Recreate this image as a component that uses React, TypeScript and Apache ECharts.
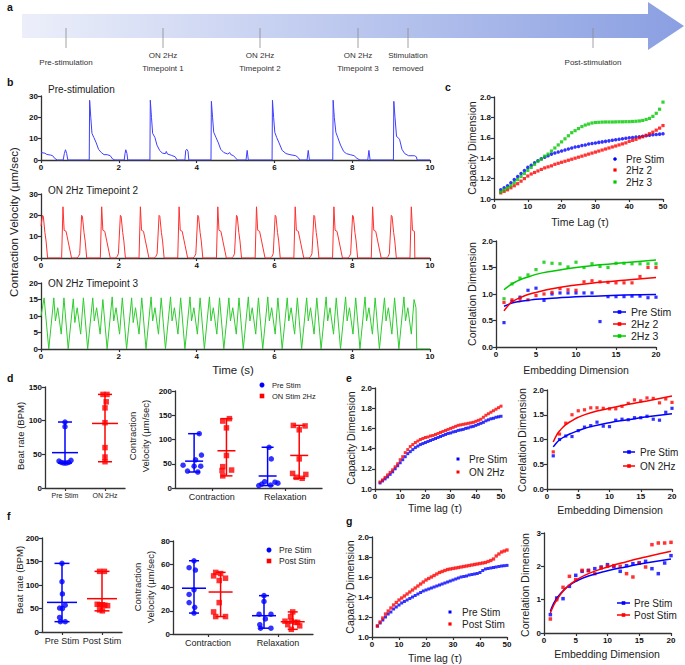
import React, { useEffect, useRef } from "react";
import * as echarts from "echarts";

// ---------------- DATA ----------------
// Panel a timeline labels
const TIMELINE_LABELS = ["Pre-stimulation", "ON 2Hz\nTimepoint 1", "ON 2Hz\nTimepoint 2", "ON 2Hz\nTimepoint 3", "Stimulation\nremoved", "Post-stimulation"];

// Panel b traces: [time (s), contraction velocity (µm/sec)]
const TRACE_PRE = [
  [0, 3.5], [0.1, 3.2], [0.15, 2.6], [0.25, 2.3], [0.3, 2], [0.35, 0.8], [0.42, 0], [0.57, 0], [0.6, 3], [0.63, 4.8], [0.66, 3], [0.69, 0],
  [1.24, 0], [1.25, 28], [1.28, 20], [1.31, 12.5], [1.36, 10.5], [1.42, 8], [1.48, 5], [1.55, 3.5], [1.62, 2.5], [1.7, 2.5], [1.78, 2], [1.84, 0.5], [1.9, 0], [2.14, 0], [2.16, 3], [2.18, 4.8], [2.21, 3], [2.23, 0],
  [2.8, 0], [2.81, 28], [2.84, 20], [2.87, 12.5], [2.93, 10.5], [2.98, 7], [3.05, 4.5], [3.12, 3.2], [3.2, 3], [3.22, 4], [3.25, 2.8], [3.35, 2.2], [3.45, 1.5], [3.5, 0], [3.7, 0], [3.72, 4.5], [3.75, 5], [3.78, 4], [3.8, 0],
  [4.37, 0], [4.38, 27.5], [4.41, 20], [4.44, 13], [4.5, 10.5], [4.56, 8], [4.62, 5], [4.7, 3.5], [4.8, 2.8], [4.85, 3.5], [4.88, 2.5], [4.95, 2], [5.0, 1], [5.05, 0], [5.27, 0], [5.3, 4.5], [5.33, 0],
  [5.94, 0], [5.95, 28], [5.98, 20], [6.01, 13], [6.06, 10.5], [6.12, 8], [6.2, 4.5], [6.3, 3], [6.4, 2.5], [6.55, 2], [6.62, 1], [6.65, 0], [6.84, 0], [6.87, 4.5], [6.9, 0],
  [7.5, 0], [7.51, 28], [7.54, 20], [7.58, 13], [7.63, 10.5], [7.7, 7], [7.78, 4], [7.85, 3], [7.95, 2.5], [8.05, 2], [8.12, 0.8], [8.2, 0], [8.4, 0], [8.43, 4.5], [8.46, 0],
  [9.06, 0], [9.07, 27.5], [9.1, 20], [9.14, 11], [9.18, 10.5], [9.22, 9.5], [9.28, 5], [9.35, 3], [9.45, 2], [9.6, 2], [9.65, 1.5], [9.67, 0], [10, 0],
];

const TRACE_2HZ_2 = [
  [0, 15], [0.04, 20], [0.06, 19.5], [0.1, 12], [0.13, 8], [0.17, 0],
  [0.53, 0], [0.565, 24], [0.595, 13], [0.645, 12.5], [0.695, 8], [0.785, 0],
  [0.925, 0], [0.965, 0.8], [0.995, 2], [1.045, 20], [1.065, 19.5], [1.105, 12], [1.135, 8], [1.175, 0],
  [1.525, 0], [1.56, 24], [1.59, 13], [1.64, 12.5], [1.69, 8], [1.78, 0],
  [1.92, 0], [1.96, 0.8], [1.99, 2], [2.04, 20], [2.06, 19.5], [2.1, 12], [2.13, 8], [2.17, 0],
  [2.52, 0], [2.555, 24], [2.585, 13], [2.635, 12.5], [2.685, 8], [2.775, 0],
  [2.915, 0], [2.955, 0.8], [2.985, 2], [3.035, 20], [3.055, 19.5], [3.095, 12], [3.125, 8], [3.165, 0],
  [3.515, 0], [3.55, 24], [3.58, 13], [3.63, 12.5], [3.68, 8], [3.77, 0],
  [3.91, 0], [3.95, 0.8], [3.98, 2], [4.03, 20], [4.05, 19.5], [4.09, 12], [4.12, 8], [4.16, 0],
  [4.51, 0], [4.545, 24], [4.575, 13], [4.625, 12.5], [4.675, 8], [4.765, 0],
  [4.905, 0], [4.945, 0.8], [4.975, 2], [5.025, 20], [5.045, 19.5], [5.085, 12], [5.115, 8], [5.155, 0],
  [5.505, 0], [5.54, 24], [5.57, 13], [5.62, 12.5], [5.67, 8], [5.76, 0],
  [5.9, 0], [5.94, 0.8], [5.97, 2], [6.02, 20], [6.04, 19.5], [6.08, 12], [6.11, 8], [6.15, 0],
  [6.5, 0], [6.535, 24], [6.565, 13], [6.615, 12.5], [6.665, 8], [6.755, 0],
  [6.895, 0], [6.935, 0.8], [6.965, 2], [7.015, 20], [7.035, 19.5], [7.075, 12], [7.105, 8], [7.145, 0],
  [7.495, 0], [7.53, 24], [7.56, 13], [7.61, 12.5], [7.66, 8], [7.75, 0],
  [7.89, 0], [7.93, 0.8], [7.96, 2], [8.01, 20], [8.03, 19.5], [8.07, 12], [8.1, 8], [8.14, 0],
  [8.49, 0], [8.525, 24], [8.555, 13], [8.605, 12.5], [8.655, 8], [8.745, 0],
  [8.885, 0], [8.925, 0.8], [8.955, 2], [9.005, 20], [9.025, 19.5], [9.065, 12], [9.095, 8], [9.135, 0],
  [9.485, 0], [9.52, 24], [9.55, 13], [9.6, 12.5], [9.61, 0], [10, 0],
];

const TRACE_2HZ_3 = [
  [0, 10], [0.08, 15.5], [0.2, 0],
  [0.33, 15.5], [0.37, 8.5], [0.43, 12.5], [0.52, 4.5], [0.59, 15.5], [0.7, 0],
  [0.83, 15.2], [0.87, 8], [0.93, 12.5], [1.02, 4.5], [1.09, 15.5], [1.2, 0],
  [1.33, 15.5], [1.37, 8.5], [1.43, 12.5], [1.52, 4.5], [1.59, 15], [1.7, 0],
  [1.83, 15.8], [1.87, 8.5], [1.93, 12.5], [2.02, 4.5], [2.09, 15.5], [2.2, 0],
  [2.33, 15.5], [2.37, 8], [2.43, 12.5], [2.52, 4.5], [2.59, 15.5], [2.7, 0],
  [2.83, 15.8], [2.87, 8.5], [2.93, 12.5], [3.02, 4.5], [3.09, 15.5], [3.2, 0],
  [3.33, 15.8], [3.37, 8.5], [3.43, 12.5], [3.52, 4.5], [3.59, 15.5], [3.7, 0],
  [3.83, 15.8], [3.87, 8.5], [3.93, 12.5], [4.02, 4.5], [4.09, 15.5], [4.2, 0],
  [4.33, 15.8], [4.37, 8.5], [4.43, 12.5], [4.52, 4.5], [4.59, 15.5], [4.7, 0],
  [4.83, 15.5], [4.87, 8.5], [4.93, 12.5], [5.02, 4.5], [5.09, 15.5], [5.2, 0],
  [5.33, 15.8], [5.37, 8.5], [5.43, 12.5], [5.52, 4.5], [5.59, 15.5], [5.7, 0],
  [5.83, 15.8], [5.87, 8.5], [5.93, 12.5], [6.02, 4.5], [6.09, 15.5], [6.2, 0],
  [6.33, 15.5], [6.37, 8.5], [6.43, 12.5], [6.52, 4.5], [6.59, 15.5], [6.7, 0],
  [6.83, 15.5], [6.87, 8.5], [6.93, 12.5], [7.02, 4.5], [7.09, 15.5], [7.2, 0],
  [7.33, 15.8], [7.37, 8.5], [7.43, 12.5], [7.52, 4.5], [7.59, 15.5], [7.7, 0],
  [7.83, 15.8], [7.87, 8.5], [7.93, 12.5], [8.02, 4.5], [8.09, 15.5], [8.2, 0],
  [8.33, 15.8], [8.37, 8.5], [8.43, 12.5], [8.52, 4.5], [8.59, 15.5], [8.7, 0],
  [8.83, 15.5], [8.87, 8.5], [8.93, 12.5], [9.02, 4.5], [9.09, 15.5], [9.2, 0],
  [9.33, 15.8], [9.37, 8.5], [9.43, 12.5], [9.52, 4.5], [9.59, 15], [9.64, 12.5], [9.66, 0], [10, 0],
];

// Capacity dimension vs time lag
const TAU = [2, 3, 4, 5, 6, 7, 8, 9, 10, 11, 12, 13, 14, 15, 16, 17, 18, 19, 20, 21, 22, 23, 24, 25, 26, 27, 28, 29, 30, 31, 32, 33, 34, 35, 36, 37, 38, 39, 40, 41, 42, 43, 44, 45, 46, 47, 48, 49, 50];
const C_CAP_PRE = [1.09, 1.11, 1.13, 1.16, 1.19, 1.22, 1.25, 1.28, 1.31, 1.33, 1.355, 1.375, 1.395, 1.41, 1.425, 1.44, 1.45, 1.46, 1.47, 1.48, 1.49, 1.5, 1.51, 1.515, 1.525, 1.53, 1.54, 1.545, 1.55, 1.555, 1.56, 1.565, 1.57, 1.575, 1.58, 1.585, 1.59, 1.595, 1.6, 1.603, 1.607, 1.61, 1.615, 1.62, 1.625, 1.63, 1.633, 1.636, 1.64];
const C_CAP_2HZ2 = [1.06, 1.075, 1.09, 1.11, 1.13, 1.15, 1.175, 1.2, 1.225, 1.245, 1.26, 1.275, 1.29, 1.305, 1.315, 1.325, 1.34, 1.35, 1.36, 1.37, 1.38, 1.39, 1.4, 1.41, 1.42, 1.43, 1.44, 1.45, 1.46, 1.47, 1.48, 1.49, 1.5, 1.51, 1.52, 1.53, 1.54, 1.55, 1.565, 1.575, 1.585, 1.6, 1.61, 1.625, 1.64, 1.655, 1.675, 1.695, 1.72];
const C_CAP_2HZ3 = [1.07, 1.09, 1.11, 1.13, 1.16, 1.19, 1.22, 1.25, 1.28, 1.31, 1.34, 1.37, 1.39, 1.42, 1.44, 1.47, 1.5, 1.53, 1.56, 1.59, 1.62, 1.65, 1.67, 1.69, 1.71, 1.725, 1.735, 1.745, 1.75, 1.752, 1.754, 1.755, 1.755, 1.755, 1.756, 1.757, 1.757, 1.758, 1.758, 1.76, 1.762, 1.765, 1.77, 1.78, 1.79, 1.81, 1.84, 1.88, 1.95];
const E_CAP_PRE = [1.06, 1.08, 1.1, 1.12, 1.145, 1.17, 1.2, 1.23, 1.26, 1.29, 1.32, 1.35, 1.37, 1.39, 1.41, 1.425, 1.44, 1.45, 1.46, 1.47, 1.48, 1.49, 1.5, 1.51, 1.52, 1.53, 1.54, 1.55, 1.555, 1.565, 1.57, 1.58, 1.585, 1.59, 1.6, 1.605, 1.615, 1.62, 1.63, 1.64, 1.65, 1.66, 1.675, 1.685, 1.695, 1.7, 1.71, 1.715, 1.72];
const E_CAP_ON = [1.07, 1.09, 1.115, 1.14, 1.165, 1.19, 1.22, 1.25, 1.29, 1.32, 1.36, 1.39, 1.42, 1.44, 1.46, 1.475, 1.49, 1.5, 1.51, 1.515, 1.525, 1.53, 1.54, 1.55, 1.56, 1.57, 1.58, 1.59, 1.6, 1.61, 1.62, 1.63, 1.635, 1.64, 1.645, 1.65, 1.655, 1.66, 1.67, 1.68, 1.69, 1.71, 1.73, 1.745, 1.76, 1.775, 1.79, 1.805, 1.82];
const G_CAP_PRE = [1.11, 1.14, 1.17, 1.2, 1.23, 1.25, 1.28, 1.3, 1.32, 1.34, 1.355, 1.37, 1.385, 1.4, 1.415, 1.43, 1.445, 1.46, 1.47, 1.48, 1.49, 1.5, 1.51, 1.52, 1.53, 1.54, 1.55, 1.56, 1.57, 1.58, 1.59, 1.6, 1.605, 1.61, 1.62, 1.625, 1.63, 1.635, 1.645, 1.665, 1.68, 1.685, 1.69, 1.695, 1.7, 1.705, 1.71, 1.713, 1.716];
const G_CAP_POST = [1.11, 1.15, 1.19, 1.23, 1.26, 1.29, 1.32, 1.345, 1.37, 1.39, 1.41, 1.43, 1.45, 1.47, 1.49, 1.51, 1.53, 1.55, 1.57, 1.585, 1.6, 1.615, 1.63, 1.645, 1.655, 1.665, 1.675, 1.68, 1.685, 1.69, 1.695, 1.7, 1.705, 1.71, 1.715, 1.72, 1.725, 1.73, 1.735, 1.74, 1.745, 1.755, 1.765, 1.78, 1.81, 1.83, 1.85, 1.86, 1.87];

// Correlation dimension vs embedding dimension
const EMB = [1, 2, 3, 4, 5, 6, 7, 8, 9, 10, 11, 12, 13, 14, 15, 16, 17, 18, 19, 20];
const C_CORR_PRE = [0.46, 0.86, 0.94, 1.07, 1.11, 0.88, 1.0, 1.02, 1.02, 1.02, 1.02, 1.02, 0.48, 0.95, 0.95, 0.95, 0.96, 0.96, 0.93, 0.94];
const C_CORR_2HZ2 = [0.84, 0.89, 0.9, 0.89, 0.97, 1.0, 1.03, 1.1, 1.08, 1.07, 1.23, 1.25, 1.23, 1.22, 1.21, 1.21, 1.21, 1.33, 1.5, 1.5];
const C_CORR_2HZ3 = [0.91, 1.19, 1.3, 1.36, 1.46, 1.6, 1.58, 1.57, 1.51, 1.6, 1.5, 1.57, 1.52, 1.5, 1.58, 1.58, 1.57, 1.57, 1.57, 1.57];
const E_CORR_PRE = [0.67, 1.0, 1.07, 1.06, 1.18, 1.25, 1.28, 1.35, 1.27, 1.26, 1.39, 1.41, 1.4, 1.44, 1.44, 1.47, 1.41, 1.39, 1.55, 1.63];
const E_CORR_ON = [0.75, 1.11, 1.33, 1.5, 1.58, 1.6, 1.64, 1.64, 1.63, 1.62, 1.62, 1.67, 1.73, 1.8, 1.78, 1.84, 1.83, 1.74, 1.82, 1.75];
const G_CORR_PRE = [0.55, 1.05, 1.03, 1.4, 1.73, 1.85, 1.88, 1.93, 1.98, 2.05, 1.99, 1.85, 2.02, 2.08, 2.1, 2.15, 1.93, 1.78, 2.1, 2.32];
const G_CORR_POST = [0.42, 1.0, 1.37, 1.7, 1.6, 1.88, 1.87, 1.78, 1.95, 2.0, 2.02, 2.0, 1.78, 1.68, 2.1, 1.98, 2.65, 2.7, 2.7, 2.72];

// Fitted curves
const FIT_X = [1, 1.5, 2, 3, 4, 5, 7, 10, 13, 16, 20];
const C_FIT_PRE = [0.77, 0.8, 0.83, 0.86, 0.88, 0.9, 0.92, 0.95, 0.96, 0.98, 0.99];
const C_FIT_2HZ2 = [0.68, 0.78, 0.85, 0.93, 0.99, 1.03, 1.1, 1.17, 1.22, 1.26, 1.31];
const C_FIT_2HZ3 = [1.08, 1.14, 1.19, 1.27, 1.32, 1.37, 1.43, 1.5, 1.55, 1.59, 1.64];
const E_FIT_PRE = [0.85, 0.93, 0.99, 1.07, 1.13, 1.18, 1.26, 1.34, 1.4, 1.46, 1.52];
const E_FIT_ON = [0.95, 1.08, 1.17, 1.3, 1.38, 1.45, 1.54, 1.63, 1.71, 1.78, 1.88];
const G_FIT_PRE = [0.65, 0.88, 1.04, 1.27, 1.43, 1.55, 1.71, 1.87, 1.99, 2.1, 2.22];
const G_FIT_POST = [0.6, 0.82, 0.99, 1.25, 1.44, 1.58, 1.78, 1.98, 2.14, 2.28, 2.45];

// Panel d
const D_BEAT_CATS = ["Pre Stim", "ON 2Hz"];
const D_BEAT_PRE = [98, 91, 40, 38, 37, 37, 38, 41];
const D_BEAT_PRE_JIT = [0, 0, -0.15, -0.09, -0.03, 0.03, 0.09, 0.15];
const D_BEAT_ON = [139, 139, 128, 119, 97, 60, 46, 39];
const D_BEAT_ON_JIT = [-0.05, 0.05, 0.03, 0, 0, 0, 0, 0];
const VEL_CATS = ["Contraction", "Relaxation"];
const D_CON_PRE = [112, 68, 58, 47, 45, 45, 35, 33];
const D_CON_PRE_JIT = [0.07, 0.1, 0.02, -0.15, 0, 0.09, -0.09, 0.05];
const D_CON_ON = [143, 138, 124, 67, 44, 37, 36, 25];
const D_CON_ON_JIT = [0.04, -0.05, 0, 0, -0.05, 0.07, -0.06, -0.05];
const D_REL_PRE = [84, 60, 13, 12, 10, 8, 6, 5];
const D_REL_PRE_JIT = [0.02, 0.05, -0.04, 0.1, 0.14, -0.08, 0.04, -0.12];
const D_REL_ON = [129, 128, 120, 60, 30, 28, 22, 20];
const D_REL_ON_JIT = [-0.08, 0.08, 0, 0, -0.09, 0.09, -0.04, 0.04];

// Panel f
const F_BEAT_CATS = ["Pre Stim", "Post Stim"];
const F_BEAT_PRE = [146, 107, 81, 57, 51, 50, 31, 22, 22];
const F_BEAT_PRE_JIT = [0, 0, 0.01, 0.08, -0.06, 0.01, -0.06, -0.04, 0.08];
const F_BEAT_POST = [129, 129, 59, 58, 58, 57, 56, 47, 45];
const F_BEAT_POST_JIT = [-0.06, 0.06, -0.12, -0.06, 0.01, 0.07, 0.14, -0.06, 0.01];
const F_CON_PRE = [63, 57, 55, 38, 34, 27, 23, 18];
const F_CON_PRE_JIT = [0, -0.07, 0.02, 0, -0.07, -0.07, 0.01, 0];
const F_CON_POST = [53, 52, 50, 48, 46, 27, 19, 15, 15];
const F_CON_POST_JIT = [-0.07, 0, -0.1, 0.07, -0.02, -0.02, -0.1, -0.07, 0.07];
const F_REL_PRE = [33, 28, 17, 17, 13, 8, 5, 5];
const F_REL_PRE_JIT = [0, 0, -0.07, 0.1, 0.02, -0.06, -0.05, 0.1];
const F_REL_POST = [19, 15, 11, 11, 10, 10, 8, 7, 4];
const F_REL_POST_JIT = [0, -0.03, -0.11, -0.02, 0.07, 0.03, -0.07, 0.1, -0.02];

// ---------------- STYLE ----------------
const FONT = "'Liberation Sans', Arial, Helvetica, sans-serif";
const BLUE = "#0000ff";
const RED = "#ff0000";
const GREEN = "#00c800";
const AXC = "#333";

function stats(v: number[]) {
  const mean = v.reduce((a, b) => a + b, 0) / v.length;
  return { mean, min: Math.min(...v), max: Math.max(...v) };
}

function buildOption() {
  const grid: any[] = [];
  const xAxis: any[] = [];
  const yAxis: any[] = [];
  const series: any[] = [];
  const graphic: any[] = [];

  const base = (g: number, fs: number) => ({
    gridIndex: g,
    splitLine: { show: false },
    axisLine: { show: true, onZero: false, lineStyle: { color: AXC, width: 1.3 } },
    axisTick: { show: true, length: 3, lineStyle: { color: AXC, width: 1.2 } },
    axisLabel: { color: "#111", fontFamily: FONT, fontSize: fs, fontWeight: "bold", margin: 3 },
  });
  const addGrid = (l: number, t: number, w: number, h: number) => {
    grid.push({ left: l, top: t, width: w, height: h });
    return grid.length - 1;
  };
  const valAxis = (arr: any[], g: number, min: number, max: number, interval: number, dec = 0, fs = 8) => {
    const b: any = base(g, fs);
    arr.push({ ...b, type: "value", min, max, interval, axisLabel: { ...b.axisLabel, formatter: (v: number) => v.toFixed(dec) } });
    return arr.length - 1;
  };
  const catX = (g: number, data: string[], fs: number) => {
    const b: any = base(g, fs);
    xAxis.push({ ...b, type: "category", data, boundaryGap: true, axisTick: { ...b.axisTick, alignWithLabel: true }, axisLabel: { ...b.axisLabel, fontWeight: "normal", color: "#222", margin: 4, interval: 0 } });
    return xAxis.length - 1;
  };
  const hidX = (g: number) => {
    xAxis.push({ type: "value", gridIndex: g, min: -0.5, max: 1.5, show: false });
    return xAxis.length - 1;
  };
  const line = (xi: number, yi: number, data: any[], color: string, width = 1, smooth = false) =>
    series.push({ type: "line", xAxisIndex: xi, yAxisIndex: yi, data, showSymbol: false, symbol: "none", smooth, lineStyle: { color, width }, silent: true });
  const dots = (xi: number, yi: number, xs: number[], ys: number[], color: string, symbol: string, size: number) =>
    series.push({ type: "scatter", xAxisIndex: xi, yAxisIndex: yi, data: ys.map((v, i) => [xs[i], v]), symbol, symbolSize: size, itemStyle: { color }, silent: true });
  const jitter = (xi: number, yi: number, pos: number, vals: number[], jit: number[], color: string, symbol: string, size: number, cap: number, half: number) => {
    const s = stats(vals);
    series.push({
      type: "custom", xAxisIndex: xi, yAxisIndex: yi, silent: true, z: 3,
      data: [[pos, s.mean, s.min, s.max]],
      encode: { x: 0, y: [1, 2, 3] },
      renderItem: (params: any, api: any) => {
        const x = api.value(0);
        const a = api.coord([x, api.value(2)]);
        const b = api.coord([x, api.value(3)]);
        const c = api.coord([x, api.value(1)]);
        const st = { stroke: color, lineWidth: 1.5 };
        return {
          type: "group",
          children: [
            { type: "line", shape: { x1: a[0], y1: a[1], x2: b[0], y2: b[1] }, style: st },
            { type: "line", shape: { x1: a[0] - cap, y1: a[1], x2: a[0] + cap, y2: a[1] }, style: st },
            { type: "line", shape: { x1: b[0] - cap, y1: b[1], x2: b[0] + cap, y2: b[1] }, style: st },
            { type: "line", shape: { x1: c[0] - half, y1: c[1], x2: c[0] + half, y2: c[1] }, style: st },
          ],
        };
      },
    });
    series.push({ type: "scatter", xAxisIndex: xi, yAxisIndex: yi, z: 4, silent: true, data: vals.map((v, i) => [pos + jit[i], v]), symbol, symbolSize: size, itemStyle: { color } });
  };

  const txt = (x: number, y: number, text: string, size: number, o: any = {}) => ({
    type: "text", x, y, rotation: o.rot || 0, silent: true, z: 10,
    style: {
      text, fill: o.color || "#222",
      font: `${o.weight || "normal"} ${size}px ${FONT}`,
      textAlign: o.align || "center", textVerticalAlign: "middle",
      align: o.align || "center", verticalAlign: "middle",
      lineHeight: o.lh || size * 1.3,
    },
  });
  const marker = (x: number, y: number, color: string, shape: string, r: number) =>
    shape === "rect"
      ? { type: "rect", silent: true, z: 10, shape: { x: x - r, y: y - r, width: 2 * r, height: 2 * r }, style: { fill: color } }
      : { type: "circle", silent: true, z: 10, shape: { cx: x, cy: y, r }, style: { fill: color } };
  const dotLegend = (x: number, y: number, color: string, shape: string, r: number, label: string, tx: number, fs: number) => {
    graphic.push(marker(x, y, color, shape, r));
    graphic.push(txt(tx, y, label, fs, { align: "left" }));
  };
  const lineLegend = (x1: number, x2: number, y: number, color: string, shape: string, label: string, tx: number, fs: number) => {
    graphic.push({ type: "line", silent: true, z: 10, shape: { x1, y1: y, x2, y2: y }, style: { stroke: color, lineWidth: 1.5 } });
    graphic.push(marker((x1 + x2) / 2, y, color, shape, 1.8));
    graphic.push(txt(tx, y, label, fs, { align: "left" }));
  };
  const rot = Math.PI / 2;

  // ---------- Panel a ----------
  graphic.push({
    type: "polygon", silent: true,
    shape: { points: [[22, 14], [648, 14], [648, 2], [684, 26], [648, 50], [648, 38], [22, 38]] },
    style: { fill: new echarts.graphic.LinearGradient(0, 0, 1, 0, [{ offset: 0, color: "#eceffa" }, { offset: 1, color: "#8a9fe2" }]) },
  });
  const TL_X = [66, 163, 260, 358, 408, 593];
  TIMELINE_LABELS.forEach((lab, i) => {
    graphic.push({ type: "line", silent: true, shape: { x1: TL_X[i], y1: 28, x2: TL_X[i], y2: 48 }, style: { stroke: "#8a8a8a", lineWidth: 0.8 } });
    graphic.push(txt(TL_X[i], lab.includes("\n") ? 62 : 62, lab, 8, { color: "#333", lh: 13 }));
  });

  // panel letters
  [["a", 7, 7], ["b", 7, 82], ["c", 445, 87], ["d", 7, 378], ["e", 346, 378], ["f", 7, 516], ["g", 346, 521]].forEach((l: any) =>
    graphic.push(txt(l[1], l[2], l[0], 10.5, { weight: "bold", align: "left", color: "#111" }))
  );

  // ---------- Panel b ----------
  const gB1 = addGrid(41, 96, 389, 64);
  const xB1 = valAxis(xAxis, gB1, 0, 10, 2);
  const yB1 = valAxis(yAxis, gB1, 0, 30, 10);
  line(xB1, yB1, TRACE_PRE, "#3f3fff");
  const gB2 = addGrid(41, 194, 389, 64);
  const xB2 = valAxis(xAxis, gB2, 0, 10, 2);
  const yB2 = valAxis(yAxis, gB2, 0, 30, 10);
  line(xB2, yB2, TRACE_2HZ_2, "#ff3030");
  const gB3 = addGrid(41, 283, 389, 66);
  const xB3 = valAxis(xAxis, gB3, 0, 10, 2);
  const yB3 = valAxis(yAxis, gB3, 0, 20, 5);
  line(xB3, yB3, TRACE_2HZ_3, "#2ecc2e");
  graphic.push(txt(48, 89, "Pre-stimulation", 10, { align: "left" }));
  graphic.push(txt(48, 190, "ON 2Hz Timepoint 2", 10, { align: "left" }));
  graphic.push(txt(48, 283, "ON 2Hz Timepoint 3", 10, { align: "left" }));
  graphic.push(txt(14, 222, "Contraction Velocity (µm/sec)", 11.5, { rot }));
  graphic.push(txt(233, 370, "Time (s)", 11.5));

  // ---------- Panel c ----------
  const gC1 = addGrid(494, 97, 169, 102);
  const xC1 = valAxis(xAxis, gC1, 0, 50, 10);
  const yC1 = valAxis(yAxis, gC1, 1, 2, 0.2, 1);
  dots(xC1, yC1, TAU, C_CAP_PRE, BLUE, "circle", 3.5);
  dots(xC1, yC1, TAU, C_CAP_2HZ2, RED, "rect", 3.2);
  dots(xC1, yC1, TAU, C_CAP_2HZ3, GREEN, "rect", 3.2);
  graphic.push(txt(472, 148, "Capacity Dimension", 10.5, { rot }));
  graphic.push(txt(580, 222, "Time Lag (τ)", 10.5));
  dotLegend(615, 159, BLUE, "circle", 1.8, "Pre Stim", 626, 10);
  dotLegend(615, 170, RED, "rect", 1.6, "2Hz 2", 626, 10);
  dotLegend(615, 182, GREEN, "rect", 1.6, "2Hz 3", 626, 10);

  const gC2 = addGrid(496, 241, 160, 106);
  const xC2 = valAxis(xAxis, gC2, 0, 20, 5);
  const yC2 = valAxis(yAxis, gC2, 0, 2, 0.5, 1);
  dots(xC2, yC2, EMB, C_CORR_PRE, BLUE, "rect", 3.2);
  dots(xC2, yC2, EMB, C_CORR_2HZ2, RED, "rect", 3.2);
  dots(xC2, yC2, EMB, C_CORR_2HZ3, GREEN, "rect", 3.2);
  line(xC2, yC2, FIT_X.map((x, i) => [x, C_FIT_PRE[i]]), BLUE, 1.5, true);
  line(xC2, yC2, FIT_X.map((x, i) => [x, C_FIT_2HZ2[i]]), RED, 1.5, true);
  line(xC2, yC2, FIT_X.map((x, i) => [x, C_FIT_2HZ3[i]]), GREEN, 1.5, true);
  graphic.push(txt(472, 294, "Correlation Dimension", 10.5, { rot }));
  graphic.push(txt(576, 370, "Embedding Dimension", 10.5));
  lineLegend(613, 626, 312, BLUE, "rect", "Pre Stim", 631, 10.5);
  lineLegend(613, 626, 324, RED, "rect", "2Hz 2", 631, 10.5);
  lineLegend(613, 626, 336, GREEN, "rect", "2Hz 3", 631, 10.5);

  // ---------- Panel d ----------
  const gD1 = addGrid(45, 387, 80, 101);
  catX(gD1, D_BEAT_CATS, 7);
  const xD1 = hidX(gD1);
  const yD1 = valAxis(yAxis, gD1, 0, 150, 50);
  jitter(xD1, yD1, 0, D_BEAT_PRE, D_BEAT_PRE_JIT, BLUE, "circle", 5.5, 7, 13);
  jitter(xD1, yD1, 1, D_BEAT_ON, D_BEAT_ON_JIT, RED, "rect", 5.5, 7, 13);
  graphic.push(txt(20, 436, "Beat rate (BPM)", 9.5, { rot }));

  const gD2 = addGrid(175, 391, 147, 97);
  catX(gD2, VEL_CATS, 9);
  const xD2 = hidX(gD2);
  const yD2 = valAxis(yAxis, gD2, 0, 200, 50);
  jitter(xD2, yD2, -0.24, D_CON_PRE, D_CON_PRE_JIT, BLUE, "circle", 5.5, 6, 9);
  jitter(xD2, yD2, 0.2, D_CON_ON, D_CON_ON_JIT, RED, "rect", 5.5, 6, 9);
  jitter(xD2, yD2, 0.76, D_REL_PRE, D_REL_PRE_JIT, BLUE, "circle", 5.5, 6, 9);
  jitter(xD2, yD2, 1.19, D_REL_ON, D_REL_ON_JIT, RED, "rect", 5.5, 6, 9);
  graphic.push(txt(139, 436, "Contraction\nVelocity (µm/sec)", 9.5, { rot, lh: 13 }));
  dotLegend(262, 385, BLUE, "circle", 2.5, "Pre Stim", 272, 7.5);
  dotLegend(262, 396, RED, "rect", 2.3, "ON Stim 2Hz", 272, 7.5);

  // ---------- Panel e ----------
  const gE1 = addGrid(375, 388, 126, 101);
  const xE1 = valAxis(xAxis, gE1, 0, 50, 10);
  const yE1 = valAxis(yAxis, gE1, 1, 2, 0.2, 1);
  dots(xE1, yE1, TAU, E_CAP_PRE, BLUE, "rect", 3);
  dots(xE1, yE1, TAU, E_CAP_ON, RED, "rect", 3);
  graphic.push(txt(351, 438, "Capacity Dimension", 10.5, { rot }));
  graphic.push(txt(435, 508, "Time lag (τ)", 10.5));
  dotLegend(458, 459, BLUE, "rect", 1.5, "Pre Stim", 469, 10);
  dotLegend(458, 472, RED, "rect", 1.5, "ON 2Hz", 469, 10);

  const gE2 = addGrid(547, 390, 125, 99);
  const xE2 = valAxis(xAxis, gE2, 0, 20, 5);
  const yE2 = valAxis(yAxis, gE2, 0, 2, 0.5, 1);
  dots(xE2, yE2, EMB, E_CORR_PRE, BLUE, "rect", 3.2);
  dots(xE2, yE2, EMB, E_CORR_ON, RED, "rect", 3.2);
  line(xE2, yE2, FIT_X.map((x, i) => [x, E_FIT_PRE[i]]), BLUE, 1.5, true);
  line(xE2, yE2, FIT_X.map((x, i) => [x, E_FIT_ON[i]]), RED, 1.5, true);
  graphic.push(txt(522, 440, "Correlation Dimension", 10.5, { rot }));
  graphic.push(txt(610, 510, "Embedding Dimension", 10.5));
  lineLegend(623, 635, 452, BLUE, "rect", "Pre Stim", 640, 10);
  lineLegend(623, 635, 466, RED, "rect", "ON 2Hz", 640, 10);

  // ---------- Panel f ----------
  const gF1 = addGrid(42, 538, 80, 94);
  catX(gF1, F_BEAT_CATS, 9);
  const xF1 = hidX(gF1);
  const yF1 = valAxis(yAxis, gF1, 0, 200, 50);
  jitter(xF1, yF1, 0, F_BEAT_PRE, F_BEAT_PRE_JIT, BLUE, "circle", 5.5, 7.5, 15);
  jitter(xF1, yF1, 1, F_BEAT_POST, F_BEAT_POST_JIT, RED, "rect", 5.5, 7.5, 15);
  graphic.push(txt(19, 580, "Beat rate (BPM)", 9.5, { rot }));

  const gF2 = addGrid(173, 541, 140, 93);
  catX(gF2, VEL_CATS, 9);
  const xF2 = hidX(gF2);
  const yF2 = valAxis(yAxis, gF2, 0, 80, 20);
  jitter(xF2, yF2, -0.2, F_CON_PRE, F_CON_PRE_JIT, BLUE, "circle", 5.5, 5, 12);
  jitter(xF2, yF2, 0.18, F_CON_POST, F_CON_POST_JIT, RED, "rect", 5.5, 5, 12);
  jitter(xF2, yF2, 0.8, F_REL_PRE, F_REL_PRE_JIT, BLUE, "circle", 5.5, 5, 12);
  jitter(xF2, yF2, 1.21, F_REL_POST, F_REL_POST_JIT, RED, "rect", 5.5, 5, 12);
  graphic.push(txt(144, 587, "Contraction\nVelocity (µm/sec)", 9.5, { rot, lh: 13 }));
  dotLegend(269, 550, BLUE, "circle", 2.5, "Pre Stim", 279, 8.5);
  dotLegend(269, 561, RED, "rect", 2.3, "Post Stim", 279, 8.5);

  // ---------- Panel g ----------
  const gG1 = addGrid(372, 537, 135, 100);
  const xG1 = valAxis(xAxis, gG1, 0, 50, 10);
  const yG1 = valAxis(yAxis, gG1, 1, 2, 0.2, 1);
  dots(xG1, yG1, TAU, G_CAP_PRE, BLUE, "rect", 3);
  dots(xG1, yG1, TAU, G_CAP_POST, RED, "rect", 3.3);
  graphic.push(txt(350, 587, "Capacity Dimension", 10.5, { rot }));
  graphic.push(txt(435, 658, "Time lag (τ)", 10.5));
  dotLegend(450, 612, BLUE, "rect", 1.5, "Pre Stim", 462, 10);
  dotLegend(450, 624, RED, "rect", 1.6, "Post Stim", 462, 10);

  const gG2 = addGrid(544, 533, 127, 100);
  const xG2 = valAxis(xAxis, gG2, 0, 20, 5);
  const yG2 = valAxis(yAxis, gG2, 0, 3, 1);
  dots(xG2, yG2, EMB, G_CORR_PRE, BLUE, "rect", 3.5);
  dots(xG2, yG2, EMB, G_CORR_POST, RED, "rect", 3.5);
  line(xG2, yG2, FIT_X.map((x, i) => [x, G_FIT_PRE[i]]), BLUE, 1.5, true);
  line(xG2, yG2, FIT_X.map((x, i) => [x, G_FIT_POST[i]]), RED, 1.5, true);
  graphic.push(txt(525, 585, "Correlation Dimension", 10.5, { rot }));
  graphic.push(txt(607, 654, "Embedding Dimension", 10.5));
  lineLegend(617, 630, 603, BLUE, "rect", "Pre Stim", 634, 10);
  lineLegend(617, 630, 615, RED, "rect", "Post Stim", 634, 10);

  return { animation: false, backgroundColor: "#ffffff", grid, xAxis, yAxis, series, graphic };
}

export default function App() {
  const ref = useRef<HTMLDivElement>(null);
  useEffect(() => {
    const chart = echarts.init(ref.current as HTMLDivElement, null, { renderer: "svg" });
    chart.setOption(buildOption() as any);
    return () => chart.dispose();
  }, []);
  return <div ref={ref} style={{ position: "absolute", left: 0, top: 0, width: 685, height: 665, background: "#fff" }} />;
}
